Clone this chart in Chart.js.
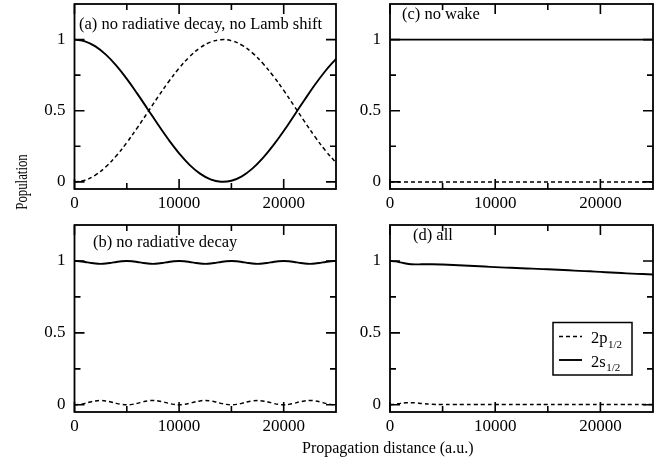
<!DOCTYPE html>
<html>
<head>
<meta charset="utf-8">
<script src="https://cdn.jsdelivr.net/npm/chart.js@4.4.0/dist/chart.umd.min.js"></script>
<style>
    html, body { margin: 0; padding: 0; background: #fff; }
    #wrap { position: relative; width: 672px; height: 472px; overflow: hidden; font-family: 'Liberation Serif', 'Times New Roman', serif; color: #000; }
    #wrap canvas { position: absolute; left: 0; top: 0; }
    .ytitle { position: absolute; left: -28px; top: 172px; width: 100px; height: 20px; line-height: 20px; font-size: 16px; text-align: center; transform: rotate(-90deg) scaleX(0.8); }
    .xtitle { position: absolute; left: 302px; top: 440px; font-size: 16px; line-height: 16px; white-space: nowrap; }
</style>
</head>
<body>
<div id="wrap">
    <canvas id="panelA" width="672" height="472"></canvas>
    <canvas id="panelB" width="672" height="472"></canvas>
    <canvas id="panelC" width="672" height="472"></canvas>
    <canvas id="panelD" width="672" height="472"></canvas>
    <div class="ytitle">Population</div>
    <div class="xtitle">Propagation distance (a.u.)</div>
</div>
<script>
// Axis ticks
const xTicks = [0, 10000, 20000];
const xMinorTicks = [5000, 15000];
const yTicks = [0, 0.5, 1];
const yTickLabels = ['0', '0.5', '1'];
const yMinorTicks = [0.25, 0.75];

// Legend names (subscript kept apart)
const stateNames = ['2p', '2s'];
const stateSubs = ['1/2', '1/2'];

// (a) no radiative decay, no Lamb shift
const xA = [0, 1000, 2000, 3000, 4000, 5000, 6000, 7000, 8000, 9000, 10000, 11000, 12000, 13000,
    14000, 15000, 16000, 17000, 18000, 19000, 20000, 21000, 22000, 23000, 24000, 25000];
const a2p = [0.000, 0.012, 0.048, 0.106, 0.183, 0.276, 0.380, 0.489, 0.599, 0.704, 0.799, 0.880, 0.942, 0.982,
    0.999, 0.992, 0.961, 0.907, 0.833, 0.744, 0.643, 0.533, 0.423, 0.316, 0.219, 0.135];
const a2s = [1.000, 0.988, 0.952, 0.894, 0.817, 0.724, 0.620, 0.511, 0.401, 0.296, 0.201, 0.120, 0.058, 0.018,
    0.001, 0.008, 0.039, 0.093, 0.167, 0.256, 0.357, 0.467, 0.577, 0.684, 0.781, 0.865];

// (b) no radiative decay
const xB = [0, 500, 1000, 1500, 2000, 2500, 3000, 3500, 4000, 4500,
    5000, 5500, 6000, 6500, 7000, 7500, 8000, 8500, 9000, 9500,
    10000, 10500, 11000, 11500, 12000, 12500, 13000, 13500, 14000, 14500,
    15000, 15500, 16000, 16500, 17000, 17500, 18000, 18500, 19000, 19500,
    20000, 20500, 21000, 21500, 22000, 22500, 23000, 23500, 24000, 24500, 25000];
const b2p = [0.000, 0.003, 0.010, 0.020, 0.027, 0.030, 0.027, 0.020, 0.010, 0.003,
    0.000, 0.003, 0.010, 0.020, 0.027, 0.030, 0.027, 0.020, 0.010, 0.003,
    0.000, 0.003, 0.010, 0.020, 0.027, 0.030, 0.027, 0.020, 0.010, 0.003,
    0.000, 0.003, 0.010, 0.020, 0.027, 0.030, 0.027, 0.020, 0.010, 0.003,
    0.000, 0.003, 0.010, 0.020, 0.027, 0.030, 0.027, 0.020, 0.010, 0.003, 0.000];
const b2s = [1.000, 0.998, 0.993, 0.987, 0.982, 0.980, 0.982, 0.987, 0.993, 0.998,
    1.000, 0.998, 0.993, 0.987, 0.982, 0.980, 0.982, 0.987, 0.993, 0.998,
    1.000, 0.998, 0.993, 0.987, 0.982, 0.980, 0.982, 0.987, 0.993, 0.998,
    1.000, 0.998, 0.993, 0.987, 0.982, 0.980, 0.982, 0.987, 0.993, 0.998,
    1.000, 0.998, 0.993, 0.987, 0.982, 0.980, 0.982, 0.987, 0.993, 0.998, 1.000];

// (c) no wake
const xC = [0, 25000];
const c2p = [0, 0];
const c2s = [1, 1];

// (d) all
const xD = [0, 500, 1000, 1500, 2000, 2500, 3000, 4000, 5000, 6000, 7000, 8000, 9000, 10000,
    11000, 12000, 13000, 14000, 15000, 16000, 17000, 18000, 19000, 20000, 21000, 22000, 23000, 24000, 25000];
const d2p = [0.000, 0.004, 0.010, 0.014, 0.015, 0.013, 0.009, 0.004, 0.002, 0.002, 0.002, 0.002, 0.002, 0.002,
    0.002, 0.002, 0.002, 0.002, 0.002, 0.002, 0.002, 0.002, 0.002, 0.002, 0.002, 0.002, 0.002, 0.002, 0.002];
const d2s = [1.000, 0.997, 0.990, 0.982, 0.977, 0.976, 0.977, 0.977, 0.975, 0.972, 0.968, 0.965, 0.961, 0.957,
    0.954, 0.951, 0.948, 0.945, 0.942, 0.939, 0.935, 0.931, 0.928, 0.924, 0.920, 0.916, 0.912, 0.909, 0.906];

Chart.defaults.font.family = "'Liberation Serif', 'Times New Roman', serif";
Chart.defaults.font.size = 17;
Chart.defaults.color = '#000';

// box around the plot with inward ticks on all four sides
const frameTicks = {
    id: 'frameTicks',
    afterDatasetsDraw(chart) {
        const { ctx, chartArea: a, scales: { x, y } } = chart;
        ctx.save();
        ctx.strokeStyle = '#000';
        ctx.lineWidth = 1.6;
        ctx.beginPath();
        const xt = (list, len) => list.forEach(v => {
            const px = x.getPixelForValue(v);
            ctx.moveTo(px, a.bottom); ctx.lineTo(px, a.bottom - len);
            ctx.moveTo(px, a.top); ctx.lineTo(px, a.top + len);
        });
        const yt = (list, len) => list.forEach(v => {
            const py = y.getPixelForValue(v);
            ctx.moveTo(a.left, py); ctx.lineTo(a.left + len, py);
            ctx.moveTo(a.right, py); ctx.lineTo(a.right - len, py);
        });
        xt(xTicks, 10); xt(xMinorTicks, 6);
        yt(yTicks, 10); yt(yMinorTicks, 6);
        ctx.stroke();
        ctx.lineWidth = 1.8;
        ctx.strokeRect(a.left, a.top, a.right - a.left, a.bottom - a.top);
        ctx.restore();
    }
};

// panel caption inside the plot
const panelText = {
    id: 'panelText',
    afterDraw(chart, args, opts) {
        const { ctx, chartArea: a } = chart;
        ctx.save();
        ctx.font = "16.5px 'Liberation Serif', 'Times New Roman', serif";
        ctx.fillStyle = '#000';
        ctx.textBaseline = 'middle';
        ctx.textAlign = 'left';
        ctx.fillText(opts.text, a.left + opts.dx, a.top + opts.dy);
        ctx.restore();
    }
};

// legend box of panel (d), with subscripts
const stateKey = {
    id: 'stateKey',
    afterDraw(chart, args, opts) {
        const { ctx, chartArea: a } = chart;
        const left = a.left + opts.dx, top = a.top + opts.dy;
        ctx.save();
        ctx.fillStyle = '#fff';
        ctx.fillRect(left, top, opts.w, opts.h);
        ctx.strokeStyle = '#000';
        ctx.lineWidth = 1.5;
        ctx.strokeRect(left, top, opts.w, opts.h);
        chart.data.datasets.forEach((ds, i) => {
            const yy = top + 14 + i * 23.5;
            ctx.beginPath();
            ctx.setLineDash(ds.borderDash || []);
            ctx.lineWidth = ds.borderWidth;
            ctx.moveTo(left + 6, yy);
            ctx.lineTo(left + 29, yy);
            ctx.stroke();
            ctx.setLineDash([]);
            ctx.fillStyle = '#000';
            ctx.textBaseline = 'alphabetic';
            ctx.font = "16.5px 'Liberation Serif', 'Times New Roman', serif";
            ctx.fillText(stateNames[i], left + 38, yy + 6.5);
            const w = ctx.measureText(stateNames[i]).width;
            ctx.font = "11px 'Liberation Serif', 'Times New Roman', serif";
            ctx.fillText(stateSubs[i], left + 38 + w + 0.5, yy + 11);
        });
        ctx.restore();
    }
};

function points(xs, ys) {
    return xs.map((x, i) => ({ x: x, y: ys[i] }));
}

function series(xs, p, s, curved) {
    return [
        { label: '2p1/2', data: points(xs, p), borderColor: '#000', borderWidth: 1.5, borderDash: [4, 3], pointRadius: 0, tension: curved ? 0.4 : 0 },
        { label: '2s1/2', data: points(xs, s), borderColor: '#000', borderWidth: 1.9, pointRadius: 0, tension: curved ? 0.4 : 0 }
    ];
}

function makePanel(id, area, caption, datasets, extra) {
    const plugins = [frameTicks, panelText];
    if (extra) plugins.push(stateKey);
    return new Chart(document.getElementById(id), {
        type: 'line',
        data: { datasets: datasets },
        plugins: plugins,
        options: {
            responsive: false,
            animation: false,
            events: [],
            layout: { padding: { left: area.l - 40, top: area.t, right: 672 - area.r, bottom: 472 - area.b - 30 } },
            plugins: {
                legend: { display: false },
                tooltip: { enabled: false },
                panelText: caption,
                stateKey: extra || {}
            },
            scales: {
                x: {
                    type: 'linear', min: 0, max: 25000,
                    grid: { display: false, drawTicks: false },
                    border: { display: false },
                    afterFit: s => { s.height = 30; s.paddingLeft = 0; s.paddingRight = 0; },
                    afterBuildTicks: s => { s.ticks = xTicks.map(v => ({ value: v })); },
                    ticks: { padding: 4, maxRotation: 0, autoSkip: false, callback: v => String(v) }
                },
                y: {
                    type: 'linear', min: -0.05, max: 1.25,
                    grid: { display: false, drawTicks: false },
                    border: { display: false },
                    afterFit: s => { s.width = 40; s.paddingTop = 0; s.paddingBottom = 0; },
                    afterBuildTicks: s => { s.ticks = yTicks.map(v => ({ value: v })); },
                    ticks: { padding: 9, autoSkip: false, callback: v => yTickLabels[yTicks.indexOf(v)] }
                }
            }
        }
    });
}

makePanel('panelA', { l: 74.5, t: 4, r: 336, b: 189 },
    { text: '(a) no radiative decay, no Lamb shift', dx: 4.5, dy: 21 }, series(xA, a2p, a2s, true));
makePanel('panelB', { l: 74.5, t: 225, r: 336, b: 412 },
    { text: '(b) no radiative decay', dx: 18.5, dy: 18 }, series(xB, b2p, b2s, true));
makePanel('panelC', { l: 390, t: 4, r: 653, b: 189 },
    { text: '(c) no wake', dx: 12, dy: 10.5 }, series(xC, c2p, c2s, false));
makePanel('panelD', { l: 390, t: 225, r: 653, b: 412 },
    { text: '(d) all', dx: 23, dy: 10.5 }, series(xD, d2p, d2s, true),
    { dx: 163, dy: 97.5, w: 79, h: 52.5 });
</script>
</body>
</html>
